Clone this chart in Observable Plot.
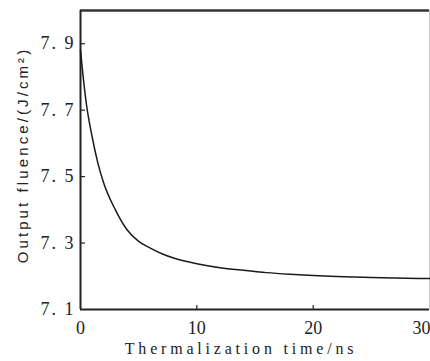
<!DOCTYPE html>
<html>
<head>
<meta charset="utf-8">
<script src="https://cdn.jsdelivr.net/npm/d3@7"></script>
<script src="https://cdn.jsdelivr.net/npm/@observablehq/plot@0.6"></script>
<style>
  html, body { margin: 0; padding: 0; background: #fff; }
  #chart { width: 430px; height: 361px; }
</style>
</head>
<body>
<div id="chart"></div>
<script>
const times = [0, 0.2, 0.5, 1, 1.5, 2, 3, 4, 5, 6, 7, 8, 10, 12, 14, 16, 18, 20, 22, 25, 28, 30];
const fluence = [7.88, 7.81, 7.72, 7.62, 7.54, 7.48, 7.40, 7.34, 7.305, 7.285, 7.268, 7.255, 7.238, 7.226, 7.218, 7.211, 7.206, 7.202, 7.199, 7.196, 7.194, 7.193];
const xTicks = [0, 10, 20, 30];
const yTicks = [7.1, 7.3, 7.5, 7.7, 7.9];
const yTickLabels = ["7.\u00a01", "7.\u00a03", "7.\u00a05", "7.\u00a07", "7.\u00a09"];
const xDomain = [0, 30];
const yDomain = [7.1, 8.0];
const xLabel = "Thermalization time/ns";
const yLabel = "Output fluence/(J/cm²)";

const data = times.map((t, i) => ({t, f: fluence[i]}));

const W = 430, H = 361;
const mL = 80, mR = 1, mT = 10, mB = 52;
const pw = W - mL - mR, ph = H - mT - mB;
const serif = "'Liberation Serif', 'DejaVu Serif', serif";
const sans = "'Liberation Sans', Arial, sans-serif";

const chart = Plot.plot({
  width: W,
  height: H,
  marginLeft: mL,
  marginRight: mR,
  marginTop: mT,
  marginBottom: mB,
  style: {fontFamily: serif, background: "#fff", color: "#222"},
  x: {domain: xDomain},
  y: {domain: yDomain},
  marks: [
    Plot.axisY(yTicks, {
      tickSize: 0, tickPadding: 5, fontSize: 18, label: null,
      tickFormat: (d) => yTickLabels[yTicks.indexOf(d)]
    }),
    Plot.axisX(xTicks.slice(0, 3), {
      tickSize: 0, tickPadding: 12, fontSize: 18, label: null,
      tickFormat: (d) => String(d)
    }),
    Plot.axisX(xTicks.slice(3), {
      tickSize: 0, tickPadding: 12, fontSize: 18, label: null, dx: -8,
      tickFormat: (d) => String(d)
    }),
    Plot.ruleY(yTicks.slice(1), {stroke: "#222", strokeWidth: 1.2, insetRight: pw - 5}),
    Plot.ruleX(xTicks.slice(1, 3), {stroke: "#222", strokeWidth: 1.2, insetTop: ph - 4}),
    Plot.ruleX([xDomain[1]], {stroke: "#ccc", strokeWidth: 1}),
    Plot.ruleY([yDomain[1]], {stroke: "#333", strokeWidth: 2.5}),
    Plot.ruleX([xDomain[0]], {stroke: "#222", strokeWidth: 2}),
    Plot.ruleY([yDomain[0]], {stroke: "#222", strokeWidth: 2}),
    Plot.line(data, {x: "t", y: "f", stroke: "#1a1a1a", strokeWidth: 1.5, curve: "monotone-x"}),
    Plot.text([xLabel], {frameAnchor: "bottom", dy: 44, dx: -14, fontSize: 16, fontFamily: serif, fill: "#222", text: (d) => d}),
    Plot.text([yLabel], {frameAnchor: "left", textAnchor: "middle", dx: -57, dy: -5, rotate: -90, fontSize: 15, fontFamily: sans, fill: "#222", text: (d) => d})
  ]
});
document.getElementById("chart").appendChild(chart);

// letter spacing to match the wide-set scanned typography
d3.select(chart).selectAll("text")
  .filter(function() { return this.textContent === xLabel; })
  .style("letter-spacing", "3.8px");
d3.select(chart).selectAll("text")
  .filter(function() { return this.textContent === yLabel; })
  .style("letter-spacing", "3.1px");
d3.select(chart).selectAll("text")
  .filter(function() { return yTickLabels.includes(this.textContent); })
  .style("letter-spacing", "2px");
</script>
</body>
</html>
